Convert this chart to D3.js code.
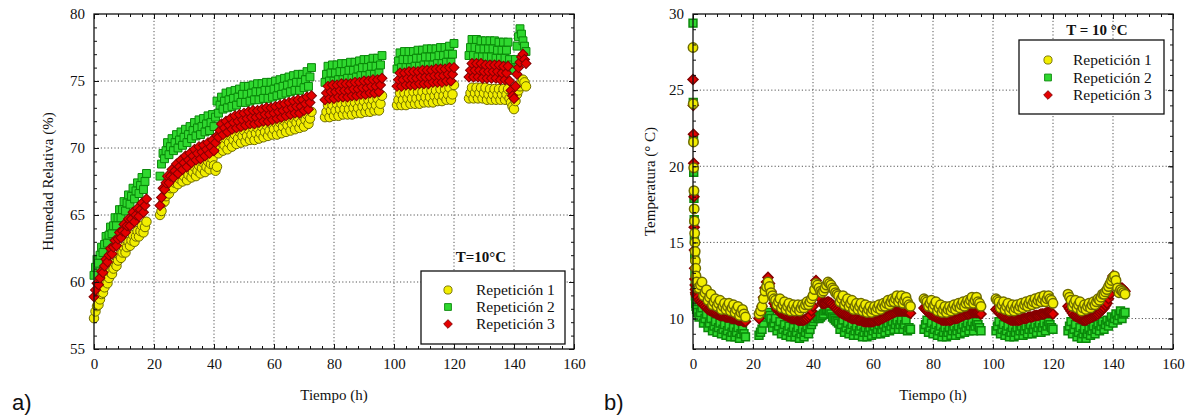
<!DOCTYPE html>
<html>
<head>
<meta charset="utf-8">
<title>Humedad y temperatura</title>
<script src="https://cdnjs.cloudflare.com/ajax/libs/d3/7.8.5/d3.min.js"></script>
<style>
  body { margin: 0; background: #fff; }
  svg text { font-family: "Liberation Serif", "Times New Roman", serif; fill: #111; font-weight: normal; }
</style>
</head>
<body>
<script>
// ---- data (half-hour sampling) ----
var xTicks = [0, 20, 40, 60, 80, 100, 120, 140, 160];
var humTicks = [55, 60, 65, 70, 75, 80];
var tempTicks = [10, 15, 20, 25, 30];
var seriesNames = ["Repetición 1", "Repetición 2", "Repetición 3"];

var hoursA = [0,0.5,1,1.5,2,2.5,3,3.5,4,4.5,5,5.5,6,6.5,7,7.5,8,8.5,9,9.5,10,10.5,11,11.5,12,12.5,13,13.5,14,14.5,15,15.5,16,16.5,17,17.5,
  22,22.5,23,23.5,24,24.5,25,25.5,26,26.5,27,27.5,28,28.5,29,29.5,30,30.5,31,31.5,32,32.5,33,33.5,34,34.5,35,35.5,36,36.5,
  37,37.5,38,38.5,39,39.5,40,40.5,41,41.5,42,42.5,43,43.5,44,44.5,45,45.5,46,46.5,47,47.5,48,48.5,49,49.5,50,50.5,51,51.5,
  52,52.5,53,53.5,54,54.5,55,55.5,56,56.5,57,57.5,58,58.5,59,59.5,60,60.5,61,61.5,62,62.5,63,63.5,64,64.5,65,65.5,66,66.5,
  67,67.5,68,68.5,69,69.5,70,70.5,71,71.5,72,72.5,
  77,77.5,78,78.5,79,79.5,80,80.5,81,81.5,82,82.5,83,83.5,84,84.5,85,85.5,86,86.5,87,87.5,88,88.5,89,89.5,90,90.5,91,91.5,
  92,92.5,93,93.5,94,94.5,95,95.5,96,
  101,101.5,102,102.5,103,103.5,104,104.5,105,105.5,106,106.5,107,107.5,108,108.5,109,109.5,110,110.5,111,111.5,112,112.5,
  113,113.5,114,114.5,115,115.5,116,116.5,117,117.5,118,118.5,119,119.5,120,
  125,125.5,126,126.5,127,127.5,128,128.5,129,129.5,130,130.5,131,131.5,132,132.5,133,133.5,134,134.5,135,135.5,136,136.5,
  137,137.5,138,138.5,139,139.5,140,140.5,141,141.5,142,142.5,143,143.5,144];

var humRep1 = [
  57.3,57.8,58.2, 58.3,58.7,59.1, 59.2,59.6,60.0, 59.9,60.3,60.7, 60.6,61.0,61.4, 61.2,61.6,62.0,
  61.8,62.2,62.6, 62.2,62.6,63.0, 62.7,63.1,63.5, 63.0,63.4,63.8, 63.4,63.8,64.2, 63.7,64.1,64.5,
  65.0,65.3,65.9, 66.0,66.4,66.8, 66.6,67.0,67.4, 67.0,67.4,67.8, 67.3,67.7,68.1, 67.5,67.9,68.3,
  67.6,68.0,68.4, 67.8,68.2,68.6, 67.9,68.3,68.7, 68.1,68.5,68.9,
  68.2,68.6,69.0, 68.4,68.8,69.2, 68.7,68.3,68.6, 69.6,70.0,70.4, 69.8,70.2,70.7, 69.9,70.4,70.9,
  70.1,70.6,71.0, 70.3,70.7,71.2, 70.4,70.9,71.3, 70.5,70.9,71.4,
  70.6,71.0,71.5, 70.6,71.1,71.5, 70.7,71.1,71.6, 70.8,71.2,71.7, 70.9,71.3,71.8, 71.0,71.4,71.9,
  71.0,71.5,71.9, 71.1,71.6,72.0, 71.2,71.7,72.1, 71.3,71.8,72.2,
  71.4,71.9,72.3, 71.5,71.9,72.4, 71.6,72.1,72.5, 71.8,72.2,72.7,
  72.3,72.7,73.2, 72.3,72.8,73.2, 72.4,72.8,73.3, 72.4,72.9,73.3, 72.5,72.9,73.4, 72.5,72.9,73.4,
  72.5,73.0,73.4, 72.6,73.0,73.5, 72.6,73.1,73.5, 72.7,73.1,73.6, 72.7,73.2,73.6, 72.8,73.2,73.7, 72.8,73.3,73.9,
  73.2,73.6,74.1, 73.2,73.6,74.1, 73.2,73.7,74.1, 73.3,73.7,74.2, 73.3,73.7,74.2, 73.3,73.8,74.2,
  73.4,73.8,74.3, 73.4,73.8,74.3, 73.4,73.9,74.3, 73.5,73.9,74.4, 73.5,73.9,74.4, 73.6,74.0,74.5, 73.6,74.0,74.7,
  73.7,74.1,74.5, 73.7,74.1,74.5, 73.7,74.1,74.5, 73.7,74.1,74.5, 73.6,74.0,74.4, 73.6,74.0,74.4,
  73.6,74.0,74.4, 73.6,74.0,74.4, 73.6,74.0,74.4, 73.7,73.4,73.1, 72.9,73.5,74.0, 74.3,74.6,74.9, 75.1,74.9,74.6];

var humRep2 = [
  60.5,61.1,61.7, 61.4,62.0,62.6, 62.2,62.8,63.4, 62.9,63.5,64.1, 63.6,64.2,64.8, 64.2,64.8,65.4,
  64.8,65.4,66.0, 65.3,65.9,66.5, 65.8,66.4,67.0, 66.2,66.8,67.4, 66.6,67.2,67.8, 66.9,67.5,68.1,
  67.9,68.8,69.6, 69.2,69.8,70.4, 69.5,70.1,70.7, 69.8,70.4,71.0, 70.0,70.6,71.2, 70.2,70.8,71.4,
  70.4,71.0,71.6, 70.7,71.3,71.9, 70.9,71.5,72.1, 71.0,71.6,72.2,
  71.2,71.8,72.4, 71.3,71.9,72.5, 71.6,72.3,73.5, 72.6,73.2,73.8, 72.9,73.5,74.1, 73.0,73.6,74.2,
  73.1,73.7,74.3, 73.2,73.8,74.4, 73.4,74.0,74.6, 73.4,74.0,74.6,
  73.5,74.1,74.7, 73.6,74.2,74.8, 73.6,74.2,74.8, 73.7,74.3,74.9, 73.7,74.3,74.9, 73.8,74.4,75.0,
  73.9,74.5,75.1, 74.0,74.6,75.2, 74.1,74.7,75.3, 74.2,74.8,75.4,
  74.3,74.9,75.5, 74.3,74.9,75.5, 74.5,75.1,75.7, 74.6,75.3,76.0,
  74.9,75.5,76.1, 75.0,75.6,76.2, 75.0,75.6,76.2, 75.1,75.7,76.3, 75.1,75.7,76.3, 75.2,75.8,76.4,
  75.2,75.8,76.4, 75.3,75.9,76.5, 75.4,76.0,76.6, 75.4,76.0,76.6, 75.5,76.1,76.7, 75.5,76.1,76.7, 75.6,76.2,76.9,
  75.9,76.5,77.1, 76.0,76.6,77.2, 76.0,76.6,77.2, 76.0,76.6,77.2, 76.1,76.7,77.3, 76.1,76.7,77.3,
  76.2,76.8,77.4, 76.2,76.8,77.4, 76.2,76.8,77.4, 76.3,76.9,77.5, 76.3,76.9,77.5, 76.4,77.0,77.6, 76.4,77.0,77.8,
  76.9,77.5,78.1, 76.9,77.5,78.1, 76.8,77.4,78.0, 76.8,77.4,78.0, 76.8,77.4,78.0, 76.8,77.4,78.0,
  76.7,77.3,77.9, 76.7,77.3,77.9, 76.7,77.3,77.9, 76.6,76.2,75.9, 75.8,76.6,77.6, 78.3,78.9,78.5, 78.0,77.6,77.2];

var humRep3 = [
  58.9,59.4,59.9, 59.8,60.3,60.8, 60.7,61.2,61.7, 61.5,62.0,62.5, 62.1,62.6,63.1, 62.7,63.2,63.7,
  63.3,63.8,64.3, 63.7,64.2,64.7, 64.2,64.7,65.2, 64.5,65.0,65.5, 64.9,65.4,65.9, 65.2,65.7,66.2,
  65.7,66.3,67.0, 66.9,67.4,67.9, 67.4,67.9,68.4, 67.8,68.3,68.8, 68.1,68.6,69.1, 68.4,68.9,69.4,
  68.6,69.1,69.6, 68.9,69.4,69.9, 69.1,69.6,70.1, 69.2,69.7,70.2,
  69.4,69.9,70.4, 69.6,70.1,70.6, 69.8,70.4,70.9, 70.8,71.3,71.8, 71.0,71.5,72.0, 71.2,71.7,72.2,
  71.4,71.9,72.4, 71.5,72.0,72.5, 71.6,72.1,72.6, 71.7,72.2,72.7,
  71.8,72.3,72.8, 71.8,72.3,72.8, 71.9,72.4,72.9, 72.0,72.5,73.0, 72.0,72.5,73.0, 72.1,72.6,73.1,
  72.2,72.7,73.2, 72.3,72.8,73.3, 72.4,72.9,73.4, 72.5,73.0,73.5,
  72.6,73.1,73.6, 72.6,73.1,73.6, 72.8,73.3,73.8, 72.9,73.4,73.9,
  73.6,74.1,74.6, 73.7,74.2,74.7, 73.7,74.2,74.7, 73.8,74.3,74.8, 73.8,74.3,74.8, 73.8,74.3,74.8,
  73.9,74.4,74.9, 73.9,74.4,74.9, 74.0,74.5,75.0, 74.0,74.5,75.0, 74.1,74.6,75.1, 74.1,74.6,75.1, 74.2,74.7,75.2,
  74.6,75.1,75.6, 74.6,75.1,75.6, 74.7,75.2,75.7, 74.7,75.2,75.7, 74.7,75.2,75.7, 74.8,75.3,75.8,
  74.8,75.3,75.8, 74.8,75.3,75.8, 74.9,75.4,75.9, 74.9,75.4,75.9, 74.9,75.4,75.9, 75.0,75.5,76.0, 75.0,75.5,76.0,
  75.3,75.8,76.3, 75.3,75.8,76.3, 75.3,75.8,76.3, 75.2,75.7,76.2, 75.2,75.7,76.2, 75.2,75.7,76.2,
  75.2,75.7,76.2, 75.1,75.6,76.1, 75.1,75.6,76.1, 75.0,74.3,73.9, 73.7,74.6,75.5, 76.0,76.4,76.8, 77.0,76.6,76.3];

// first hour of the temperature record is sampled densely
var hoursStartB = [0,0.08,0.16,0.24,0.32,0.4,0.48,0.56,0.64,0.72,0.8,0.9,1,1.2,1.5];
var hoursB = hoursStartB.concat(hoursA.slice(4));

var tempRep1 = [
  27.8,24.1,21.6,19.9,18.4,17.2,16.4,15.6,15.0,14.4,13.8,13.3,12.8,12.4,12.0,
  12.0,12.2,12.4, 11.5,11.7,11.9, 11.2,11.4,11.6, 10.9,11.1,11.3, 10.8,11.0,11.2, 10.6,10.8,11.0,
  10.6,10.8,11.0, 10.5,10.7,10.9, 10.4,10.6,10.8, 10.2,10.4,10.6, 10.3,10.1,
  10.3,10.5,10.8, 11.3,11.8,12.1, 12.4,12.1,11.7, 11.5,11.3,11.2, 10.9,11.1,11.3, 10.7,10.9,11.1,
  10.6,10.8,11.0, 10.5,10.7,10.9, 10.5,10.7,10.9, 10.5,10.7,10.9,
  10.7,10.9,11.1, 10.9,11.1,11.3, 11.5,11.9,12.3, 12.2,12.0,11.8, 11.7,11.8,12.0, 12.2,12.4,12.3,
  12.2,12.0,11.9, 11.7,11.6,11.5, 11.1,11.3,11.5, 10.9,11.1,11.3,
  10.8,11.0,11.2, 10.6,10.8,11.0, 10.6,10.8,11.0, 10.5,10.7,10.9, 10.4,10.6,10.8, 10.4,10.6,10.8,
  10.5,10.7,10.9, 10.6,10.8,11.0, 10.8,11.0,11.2, 10.9,11.1,11.3,
  11.1,11.3,11.5, 11.1,11.3,11.5, 11.0,11.2,11.4, 11.1,10.9,10.8,
  11.3,11.2,11.1, 10.8,11.0,11.2, 10.7,10.9,11.1, 10.5,10.7,10.9, 10.4,10.6,10.8, 10.4,10.6,10.8,
  10.5,10.7,10.9, 10.6,10.8,11.0, 10.7,10.9,11.1, 10.8,11.0,11.2, 11.0,11.2,11.4, 11.0,11.2,11.4, 11.1,11.0,10.8,
  11.3,11.2,11.1, 10.7,10.9,11.1, 10.6,10.8,11.0, 10.5,10.7,10.9, 10.5,10.7,10.9, 10.6,10.8,11.0,
  10.7,10.9,11.1, 10.8,11.0,11.2, 10.9,11.1,11.3, 11.0,11.2,11.4, 11.1,11.3,11.5, 11.1,11.3,11.5, 11.3,11.2,11.0,
  11.6,11.4,11.2, 10.8,11.0,11.2, 10.7,10.9,11.1, 10.5,10.7,10.9, 10.6,10.8,11.0, 10.7,10.9,11.1,
  10.9,11.1,11.3, 11.2,11.4,11.6, 11.6,11.75,11.9, 12.1,12.3,12.5, 12.7,12.8,12.5, 12.0,11.7,11.9, 11.8,11.7,11.6];

var tempRep2 = [
  29.4,24.2,21.7,19.6,17.9,16.5,15.2,14.0,13.0,12.2,11.5,11.0,10.8,10.6,10.4,
  10.1,10.4,10.7, 9.7,10.0,10.3, 9.4,9.7,10.0, 9.2,9.5,9.8, 9.1,9.4,9.7, 9.0,9.3,9.6,
  8.9,9.2,9.5, 8.8,9.1,9.4, 8.8,9.1,9.4, 8.7,9.0,9.3, 9.0,8.8,
  8.9,9.1,9.3, 9.7,10.1,10.3, 10.4,10.2,10.0, 9.4,9.7,10.0, 9.2,9.5,9.8, 9.0,9.3,9.6,
  8.9,9.2,9.5, 8.8,9.1,9.4, 8.8,9.1,9.4, 8.7,9.0,9.3,
  8.8,9.1,9.4, 9.0,9.3,9.6, 9.8,10.0,10.2, 10.1,10.0,10.1, 10.2,10.3,10.5, 10.6,10.6,10.5,
  10.3,10.1,10.0, 9.9,9.8,9.7, 9.3,9.6,9.9, 9.1,9.4,9.7,
  9.0,9.3,9.6, 8.9,9.2,9.5, 8.9,9.2,9.5, 8.8,9.1,9.4, 8.8,9.1,9.4, 8.9,9.2,9.5,
  9.0,9.3,9.6, 9.0,9.3,9.6, 9.1,9.4,9.7, 9.2,9.5,9.8,
  9.3,9.6,9.9, 9.3,9.6,9.9, 9.3,9.6,9.9, 9.2,9.4,9.3,
  9.3,9.6,9.9, 9.1,9.4,9.7, 9.0,9.3,9.6, 8.9,9.2,9.5, 8.8,9.1,9.4, 8.8,9.1,9.4,
  8.9,9.2,9.5, 8.9,9.2,9.5, 9.0,9.3,9.6, 9.1,9.4,9.7, 9.2,9.5,9.8, 9.2,9.5,9.8, 9.6,9.4,9.2,
  9.2,9.5,9.8, 9.0,9.3,9.6, 8.9,9.2,9.5, 8.8,9.1,9.4, 8.8,9.1,9.4, 8.9,9.2,9.5,
  8.9,9.2,9.5, 9.0,9.3,9.6, 9.0,9.3,9.6, 9.1,9.4,9.7, 9.1,9.4,9.7, 9.2,9.5,9.8, 9.6,9.4,9.3,
  9.2,9.5,9.8, 9.0,9.3,9.6, 8.8,9.1,9.4, 8.7,9.0,9.3, 8.7,9.0,9.3, 8.9,9.2,9.5,
  9.0,9.3,9.6, 9.2,9.5,9.8, 9.3,9.6,9.9, 9.5,9.8,10.1, 9.7,10.0,10.3, 9.9,10.2,10.5, 10.0,10.3,10.4];

var tempRep3 = [
  25.7,24.0,22.1,20.2,18.0,16.0,14.5,13.3,12.6,12.2,11.9,11.7,11.6,11.5,11.4,
  11.2,11.1,11.0,10.9,10.8,10.7,10.6,10.55,10.5,10.45,10.4,10.35,10.3,10.25,10.2,10.2,
  10.2,10.15,10.1,10.1,10.1,10.05,10.0,10.0,10.0,9.95,9.9,9.9,9.9,9.85,9.8,9.8,
  10.0,10.4,10.8,11.4,12.0,12.4,12.7,12.3,11.8,11.4,
  11.0,10.8,10.6,10.5,10.4,10.35,10.3,10.25,10.2,10.15,
  10.1,10.05,10.0,10.0,10.0,9.95,9.9,9.9,9.9,9.9,
  9.9,9.95,10.0,10.1,10.2,10.5,10.8,11.6,12.5,12.0,
  11.6,11.3,11.0,11.0,11.0,11.05,11.1,11.05,11.0,10.9,
  10.8,10.7,10.6,10.5,10.4,10.35,10.3,10.25,10.2,10.15,
  10.1,10.05,10.0,10.0,10.0,9.95,9.9,9.9,9.9,9.85,
  9.8,9.8,9.8,9.8,9.8,9.8,9.8,9.85,9.9,9.9,
  9.9,9.95,10.0,10.05,10.1,10.15,10.2,10.25,10.3,10.35,
  10.4,10.45,10.5,10.5,10.5,10.5,10.5,10.5,10.5,10.45,
  10.4,10.35,
  10.7,10.6,10.5,10.4,10.3,10.25,10.2,10.15,10.1,10.05,10.0,9.95,9.9,9.9,9.9,9.9,9.9,9.9,9.9,9.95,
  10.0,10.0,10.0,10.05,10.1,10.15,10.2,10.25,10.3,10.3,10.3,10.35,10.4,10.4,10.4,10.4,10.4,10.35,10.3,
  10.6,10.5,10.4,10.3,10.2,10.15,10.1,10.05,10.0,9.95,9.9,9.9,9.9,9.9,9.9,9.9,9.9,9.95,10.0,10.0,
  10.0,10.05,10.1,10.1,10.1,10.15,10.2,10.2,10.2,10.25,10.3,10.3,10.3,10.35,10.4,10.4,10.4,10.35,10.3,
  10.8,10.65,10.5,10.35,10.2,10.15,10.1,10.05,10.0,9.95,9.9,9.9,9.9,9.95,10.0,10.05,10.1,10.15,10.2,10.25,
  10.3,10.4,10.5,10.6,10.7,10.85,11.0,11.3,11.6,12.2,12.8,12.6,12.3,12.1,12.0,12.0,12.0,11.9,11.8];

[humRep1, humRep2, humRep3].forEach(function(s, i){
  if (s.length !== hoursA.length) throw new Error("humRep" + (i + 1) + " has " + s.length + " values, expected " + hoursA.length);
});
[tempRep1, tempRep2, tempRep3].forEach(function(s, i){
  if (s.length !== hoursB.length) throw new Error("tempRep" + (i + 1) + " has " + s.length + " values, expected " + hoursB.length);
});

// ---- styles ----
var markers = [
  { fill: "#f2ee00", stroke: "#6f6c00", type: d3.symbolCircle, size: 70, rot: 0 },
  { fill: "#2fd82f", stroke: "#0a870a", type: d3.symbolSquare, size: 62, rot: 0 },
  { fill: "#e40000", stroke: "#850000", type: d3.symbolSquare, size: 50, rot: 45 }
];

var width = 1189, height = 416;
var svg = d3.select("body").append("svg")
  .attr("width", width)
  .attr("height", height);

function drawPanel(p) {
  var x = d3.scaleLinear().domain([0, 160]).range([p.left, p.right]);
  var y = d3.scaleLinear().domain(p.yDomain).range([p.bottom, p.top]);
  var g = svg.append("g");

  // grid
  g.selectAll(".gx").data(xTicks.slice(1, -1)).enter().append("line")
    .attr("x1", function(d){ return x(d); }).attr("x2", function(d){ return x(d); })
    .attr("y1", p.top).attr("y2", p.bottom)
    .attr("stroke", "#555").attr("stroke-width", 1).attr("stroke-dasharray", "1.2,2.2");
  g.selectAll(".gy").data(p.yTicks.filter(function(d){ return d > p.yDomain[0] && d < p.yDomain[1]; }))
    .enter().append("line")
    .attr("y1", function(d){ return y(d); }).attr("y2", function(d){ return y(d); })
    .attr("x1", p.left).attr("x2", p.right)
    .attr("stroke", "#555").attr("stroke-width", 1).attr("stroke-dasharray", "1.2,2.2");

  // points
  p.order.forEach(function(i) {
    var m = markers[i];
    var sym = d3.symbol().type(m.type).size(m.size);
    g.append("g").selectAll("path").data(p.hours.map(function(t, k){ return [t, p.series[i][k]]; }))
      .enter().append("path")
      .attr("d", sym)
      .attr("transform", function(d){ return "translate(" + x(d[0]) + "," + y(d[1]) + ") rotate(" + m.rot + ")"; })
      .attr("fill", m.fill).attr("stroke", m.stroke).attr("stroke-width", p.markStroke);
  });

  // axes, ticks pointing inward on all four sides
  var xMinor = d3.range(0, 161, 4), yMinor = d3.range(p.yDomain[0], p.yDomain[1] + 0.01, 1);
  function addAxis(axis, tr) {
    var a = g.append("g").attr("transform", tr).call(axis);
    a.attr("font-family", null);
    a.select(".domain").remove();
    a.selectAll("line").attr("stroke", "#111").attr("stroke-width", 1);
    a.selectAll("text").style("font-size", "15px").attr("fill", "#111");
    return a;
  }
  var B = "translate(0," + p.bottom + ")", T = "translate(0," + p.top + ")";
  var L = "translate(" + p.left + ",0)", R = "translate(" + p.right + ",0)";
  addAxis(d3.axisBottom(x).tickValues(xTicks).tickSize(-5).tickPadding(9), B);
  addAxis(d3.axisBottom(x).tickValues(xMinor).tickSize(-3).tickFormat(""), B);
  addAxis(d3.axisTop(x).tickValues(xTicks).tickSize(-5).tickFormat(""), T);
  addAxis(d3.axisTop(x).tickValues(xMinor).tickSize(-3).tickFormat(""), T);
  addAxis(d3.axisLeft(y).tickValues(p.yTicks).tickSize(-5).tickPadding(9), L);
  addAxis(d3.axisLeft(y).tickValues(yMinor).tickSize(-3).tickFormat(""), L);
  addAxis(d3.axisRight(y).tickValues(p.yTicks).tickSize(-5).tickFormat(""), R);
  addAxis(d3.axisRight(y).tickValues(yMinor).tickSize(-3).tickFormat(""), R);

  g.append("rect").attr("x", p.left).attr("y", p.top)
    .attr("width", p.right - p.left).attr("height", p.bottom - p.top)
    .attr("fill", "none").attr("stroke", "#111").attr("stroke-width", 1.3);

  // titles
  g.append("text").attr("x", (p.left + p.right) / 2).attr("y", 400)
    .attr("text-anchor", "middle").style("font-size", "15px").text("Tiempo (h)");
  g.append("text")
    .attr("transform", "translate(" + p.ylabX + "," + ((p.top + p.bottom) / 2) + ") rotate(-90)")
    .attr("text-anchor", "middle").style("font-size", "15px").text(p.ylabel);
  g.append("text").attr("x", p.tagX).attr("y", 410)
    .style("font-family", "'Liberation Sans', Arial, sans-serif").style("font-size", "22px").text(p.tag);

  // legend
  var lg = p.legend;
  g.append("text").attr("x", lg.titleX).attr("y", lg.titleY).attr("text-anchor", "middle")
    .style("font-size", "15px").style("font-weight", "bold").text(lg.title);
  g.append("rect").attr("x", lg.x).attr("y", lg.y).attr("width", lg.w).attr("height", lg.h)
    .attr("fill", "#fff").attr("stroke", "#111").attr("stroke-width", 1.3);
  seriesNames.forEach(function(name, i) {
    var m = markers[i];
    var cy = lg.y + lg.rowStart + i * lg.rowGap;
    g.append("path").attr("d", d3.symbol().type(m.type).size(m.size * 0.75))
      .attr("transform", "translate(" + lg.mx + "," + cy + ") rotate(" + m.rot + ")")
      .attr("fill", m.fill).attr("stroke", m.stroke).attr("stroke-width", 0.9);
    g.append("text").attr("x", lg.tx).attr("y", cy + 5).style("font-size", "15.5px").text(name);
  });
}

drawPanel({
  left: 94, right: 574, top: 14, bottom: 349,
  yDomain: [55, 80], yTicks: humTicks, markStroke: 1,
  hours: hoursA, series: [humRep1, humRep2, humRep3], order: [0, 1, 2],
  ylabel: "Humedad Relativa (%)", ylabX: 53, tag: "a)", tagX: 12,
  legend: { title: "T=10°C", titleX: 481, titleY: 262, x: 421, y: 271, w: 144, h: 73,
            rowStart: 19, rowGap: 17, mx: 448, tx: 476 }
});

drawPanel({
  left: 693, right: 1173, top: 14, bottom: 349,
  yDomain: [8, 30], yTicks: tempTicks, markStroke: 1.5,
  hours: hoursB, series: [tempRep1, tempRep2, tempRep3], order: [1, 2, 0],
  ylabel: "Temperatura (° C)", ylabX: 655, tag: "b)", tagX: 604,
  legend: { title: "T = 10 °C", titleX: 1097, titleY: 35, x: 1019, y: 40, w: 145, h: 74,
            rowStart: 20, rowGap: 17.5, mx: 1048, tx: 1073 }
});
</script>
</body>
</html>
